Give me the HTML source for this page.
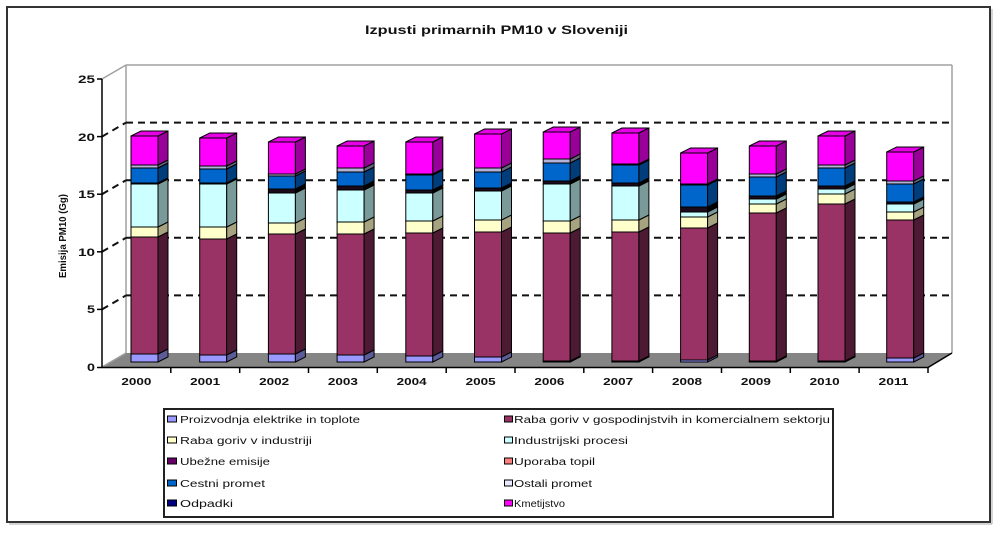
<!DOCTYPE html>
<html>
<head>
<meta charset="utf-8">
<style>
html,body{margin:0;padding:0;background:#fff;}
svg{display:block;}
text{font-family:"Liberation Sans",Arial,sans-serif;fill:#111;}
</style>
</head>
<body>
<svg width="1003" height="533" viewBox="0 0 1003 533" xmlns="http://www.w3.org/2000/svg">
<rect x="0" y="0" width="1003" height="533" fill="#fff"/>
<!-- outer frame -->
<rect x="7" y="7" width="983" height="515" fill="#fff" stroke="#333" stroke-width="2"/>
<line x1="9" y1="524" x2="992" y2="524" stroke="#aaa" stroke-width="1"/>
<line x1="992" y1="9" x2="992" y2="524" stroke="#aaa" stroke-width="1"/>

<!-- title -->
<text x="365" y="34" font-size="12" font-weight="bold" textLength="263" lengthAdjust="spacingAndGlyphs">Izpusti primarnih PM10 v Sloveniji</text>

<!-- floor -->
<polygon points="102,367 928,367 952,353 126,353" fill="#858585"/>
<!-- back wall border -->
<g stroke="#a0a0a0" stroke-width="1.5" fill="none">
<line x1="126" y1="65" x2="952" y2="65"/>
<line x1="126" y1="65" x2="126" y2="353"/>
<line x1="952" y1="65" x2="952" y2="353"/>
<line x1="102" y1="79" x2="126" y2="65"/>
<line x1="102" y1="367" x2="126" y2="353"/>
</g>
<!-- gridlines -->
<g stroke="#111" stroke-width="2" stroke-dasharray="7,5" fill="none">
<line x1="126" y1="122.6" x2="952" y2="122.6"/>
<line x1="126" y1="180.2" x2="952" y2="180.2"/>
<line x1="126" y1="237.8" x2="952" y2="237.8"/>
<line x1="126" y1="295.4" x2="952" y2="295.4"/>
<line x1="102" y1="136.6" x2="126" y2="122.6"/>
<line x1="102" y1="194.2" x2="126" y2="180.2"/>
<line x1="102" y1="251.8" x2="126" y2="237.8"/>
<line x1="102" y1="309.4" x2="126" y2="295.4"/>
</g>

<!-- bars -->
<g stroke="#000" stroke-width="1" stroke-linejoin="miter">
<!-- 2000 -->
<g transform="translate(131,0)">
<rect x="0" y="354" width="27" height="8" fill="#9999FF"/><polygon points="27,362 37,357 37,349 27,354" fill="#5c5c99"/>
<rect x="0" y="237" width="27" height="117" fill="#993366"/><polygon points="27,354 37,349 37,232 27,237" fill="#4d1a33"/>
<rect x="0" y="227" width="27" height="10" fill="#FFFFCC"/><polygon points="27,237 37,232 37,222 27,227" fill="#a6a380"/>
<rect x="0" y="184" width="27" height="43" fill="#CCFFFF"/><polygon points="27,227 37,222 37,179 27,184" fill="#7a9999"/>
<rect x="0" y="183" width="27" height="1" fill="#1a0a1a"/><polygon points="27,184 37,179 37,178 27,183" fill="#000"/>
<rect x="0" y="168" width="27" height="15" fill="#0066CC"/><polygon points="27,183 37,178 37,163 27,168" fill="#003d7a"/>
<rect x="0" y="165" width="27" height="3" fill="#b3b3d9"/><polygon points="27,168 37,163 37,160 27,165" fill="#66667f"/>
<rect x="0" y="136" width="27" height="29" fill="#FF00FF"/><polygon points="27,165 37,160 37,131 27,136" fill="#990099"/>
<polygon points="0,136 10,131 37,131 27,136" fill="#e600e6"/>
</g>
<!-- 2001 -->
<g transform="translate(199.7,0)">
<rect x="0" y="355" width="27" height="7" fill="#9999FF"/><polygon points="27,362 37,357 37,350 27,355" fill="#5c5c99"/>
<rect x="0" y="239" width="27" height="116" fill="#993366"/><polygon points="27,355 37,350 37,234 27,239" fill="#4d1a33"/>
<rect x="0" y="227" width="27" height="12" fill="#FFFFCC"/><polygon points="27,239 37,234 37,222 27,227" fill="#a6a380"/>
<rect x="0" y="184" width="27" height="43" fill="#CCFFFF"/><polygon points="27,227 37,222 37,179 27,184" fill="#7a9999"/>
<rect x="0" y="183" width="27" height="1" fill="#1a0a1a"/><polygon points="27,184 37,179 37,178 27,183" fill="#000"/>
<rect x="0" y="169" width="27" height="14" fill="#0066CC"/><polygon points="27,183 37,178 37,164 27,169" fill="#003d7a"/>
<rect x="0" y="166" width="27" height="3" fill="#b3b3d9"/><polygon points="27,169 37,164 37,161 27,166" fill="#66667f"/>
<rect x="0" y="138" width="27" height="28" fill="#FF00FF"/><polygon points="27,166 37,161 37,133 27,138" fill="#990099"/>
<polygon points="0,138 10,133 37,133 27,138" fill="#e600e6"/>
</g>
<!-- 2002 -->
<g transform="translate(268.4,0)">
<rect x="0" y="354" width="27" height="8" fill="#9999FF"/><polygon points="27,362 37,357 37,349 27,354" fill="#5c5c99"/>
<rect x="0" y="234" width="27" height="120" fill="#993366"/><polygon points="27,354 37,349 37,229 27,234" fill="#4d1a33"/>
<rect x="0" y="223" width="27" height="11" fill="#FFFFCC"/><polygon points="27,234 37,229 37,218 27,223" fill="#a6a380"/>
<rect x="0" y="193" width="27" height="30" fill="#CCFFFF"/><polygon points="27,223 37,218 37,188 27,193" fill="#7a9999"/>
<rect x="0" y="189" width="27" height="4" fill="#1a0a1a"/><polygon points="27,193 37,188 37,184 27,189" fill="#000"/>
<rect x="0" y="176" width="27" height="13" fill="#0066CC"/><polygon points="27,189 37,184 37,171 27,176" fill="#003d7a"/>
<rect x="0" y="174" width="27" height="2" fill="#b3b3d9"/><polygon points="27,176 37,171 37,169 27,174" fill="#66667f"/>
<rect x="0" y="142" width="27" height="32" fill="#FF00FF"/><polygon points="27,174 37,169 37,137 27,142" fill="#990099"/>
<polygon points="0,142 10,137 37,137 27,142" fill="#e600e6"/>
</g>
<!-- 2003 -->
<g transform="translate(337.1,0)">
<rect x="0" y="355" width="27" height="7" fill="#9999FF"/><polygon points="27,362 37,357 37,350 27,355" fill="#5c5c99"/>
<rect x="0" y="234" width="27" height="121" fill="#993366"/><polygon points="27,355 37,350 37,229 27,234" fill="#4d1a33"/>
<rect x="0" y="222" width="27" height="12" fill="#FFFFCC"/><polygon points="27,234 37,229 37,217 27,222" fill="#a6a380"/>
<rect x="0" y="190" width="27" height="32" fill="#CCFFFF"/><polygon points="27,222 37,217 37,185 27,190" fill="#7a9999"/>
<rect x="0" y="186" width="27" height="4" fill="#1a0a1a"/><polygon points="27,190 37,185 37,181 27,186" fill="#000"/>
<rect x="0" y="172" width="27" height="14" fill="#0066CC"/><polygon points="27,186 37,181 37,167 27,172" fill="#003d7a"/>
<rect x="0" y="168" width="27" height="4" fill="#b3b3d9"/><polygon points="27,172 37,167 37,163 27,168" fill="#66667f"/>
<rect x="0" y="146" width="27" height="22" fill="#FF00FF"/><polygon points="27,168 37,163 37,141 27,146" fill="#990099"/>
<polygon points="0,146 10,141 37,141 27,146" fill="#e600e6"/>
</g>
<!-- 2004 -->
<g transform="translate(405.8,0)">
<rect x="0" y="356" width="27" height="6" fill="#9999FF"/><polygon points="27,362 37,357 37,351 27,356" fill="#5c5c99"/>
<rect x="0" y="233" width="27" height="123" fill="#993366"/><polygon points="27,356 37,351 37,228 27,233" fill="#4d1a33"/>
<rect x="0" y="221" width="27" height="12" fill="#FFFFCC"/><polygon points="27,233 37,228 37,216 27,221" fill="#a6a380"/>
<rect x="0" y="193" width="27" height="28" fill="#CCFFFF"/><polygon points="27,221 37,216 37,188 27,193" fill="#7a9999"/>
<rect x="0" y="190" width="27" height="3" fill="#1a0a1a"/><polygon points="27,193 37,188 37,185 27,190" fill="#000"/>
<rect x="0" y="175" width="27" height="15" fill="#0066CC"/><polygon points="27,190 37,185 37,170 27,175" fill="#003d7a"/>
<rect x="0" y="174" width="27" height="1" fill="#b3b3d9"/><polygon points="27,175 37,170 37,169 27,174" fill="#66667f"/>
<rect x="0" y="142" width="27" height="32" fill="#FF00FF"/><polygon points="27,174 37,169 37,137 27,142" fill="#990099"/>
<polygon points="0,142 10,137 37,137 27,142" fill="#e600e6"/>
</g>
<!-- 2005 -->
<g transform="translate(474.5,0)">
<rect x="0" y="357" width="27" height="5" fill="#9999FF"/><polygon points="27,362 37,357 37,352 27,357" fill="#5c5c99"/>
<rect x="0" y="232" width="27" height="125" fill="#993366"/><polygon points="27,357 37,352 37,227 27,232" fill="#4d1a33"/>
<rect x="0" y="220" width="27" height="12" fill="#FFFFCC"/><polygon points="27,232 37,227 37,215 27,220" fill="#a6a380"/>
<rect x="0" y="191" width="27" height="29" fill="#CCFFFF"/><polygon points="27,220 37,215 37,186 27,191" fill="#7a9999"/>
<rect x="0" y="188" width="27" height="3" fill="#1a0a1a"/><polygon points="27,191 37,186 37,183 27,188" fill="#000"/>
<rect x="0" y="172" width="27" height="16" fill="#0066CC"/><polygon points="27,188 37,183 37,167 27,172" fill="#003d7a"/>
<rect x="0" y="168" width="27" height="4" fill="#b3b3d9"/><polygon points="27,172 37,167 37,163 27,168" fill="#66667f"/>
<rect x="0" y="134" width="27" height="34" fill="#FF00FF"/><polygon points="27,168 37,163 37,129 27,134" fill="#990099"/>
<polygon points="0,134 10,129 37,129 27,134" fill="#e600e6"/>
</g>
<!-- 2006 -->
<g transform="translate(543.2,0)">
<rect x="0" y="361" width="27" height="1" fill="#9999FF"/><polygon points="27,362 37,357 37,356 27,361" fill="#5c5c99"/>
<rect x="0" y="233" width="27" height="128" fill="#993366"/><polygon points="27,361 37,356 37,228 27,233" fill="#4d1a33"/>
<rect x="0" y="221" width="27" height="12" fill="#FFFFCC"/><polygon points="27,233 37,228 37,216 27,221" fill="#a6a380"/>
<rect x="0" y="184" width="27" height="37" fill="#CCFFFF"/><polygon points="27,221 37,216 37,179 27,184" fill="#7a9999"/>
<rect x="0" y="181" width="27" height="3" fill="#1a0a1a"/><polygon points="27,184 37,179 37,176 27,181" fill="#000"/>
<rect x="0" y="163" width="27" height="18" fill="#0066CC"/><polygon points="27,181 37,176 37,158 27,163" fill="#003d7a"/>
<rect x="0" y="159" width="27" height="4" fill="#b3b3d9"/><polygon points="27,163 37,158 37,154 27,159" fill="#66667f"/>
<rect x="0" y="132" width="27" height="27" fill="#FF00FF"/><polygon points="27,159 37,154 37,127 27,132" fill="#990099"/>
<polygon points="0,132 10,127 37,127 27,132" fill="#e600e6"/>
</g>
<!-- 2007 -->
<g transform="translate(611.9,0)">
<rect x="0" y="361" width="27" height="1" fill="#9999FF"/><polygon points="27,362 37,357 37,356 27,361" fill="#5c5c99"/>
<rect x="0" y="232" width="27" height="129" fill="#993366"/><polygon points="27,361 37,356 37,227 27,232" fill="#4d1a33"/>
<rect x="0" y="220" width="27" height="12" fill="#FFFFCC"/><polygon points="27,232 37,227 37,215 27,220" fill="#a6a380"/>
<rect x="0" y="186" width="27" height="34" fill="#CCFFFF"/><polygon points="27,220 37,215 37,181 27,186" fill="#7a9999"/>
<rect x="0" y="183" width="27" height="3" fill="#1a0a1a"/><polygon points="27,186 37,181 37,178 27,183" fill="#000"/>
<rect x="0" y="165" width="27" height="18" fill="#0066CC"/><polygon points="27,183 37,178 37,160 27,165" fill="#003d7a"/>
<rect x="0" y="164" width="27" height="1" fill="#b3b3d9"/><polygon points="27,165 37,160 37,159 27,164" fill="#66667f"/>
<rect x="0" y="133" width="27" height="31" fill="#FF00FF"/><polygon points="27,164 37,159 37,128 27,133" fill="#990099"/>
<polygon points="0,133 10,128 37,128 27,133" fill="#e600e6"/>
</g>
<!-- 2008 -->
<g transform="translate(680.6,0)">
<rect x="0" y="360" width="27" height="2" fill="#9999FF"/><polygon points="27,362 37,357 37,355 27,360" fill="#5c5c99"/>
<rect x="0" y="228" width="27" height="132" fill="#993366"/><polygon points="27,360 37,355 37,223 27,228" fill="#4d1a33"/>
<rect x="0" y="217" width="27" height="11" fill="#FFFFCC"/><polygon points="27,228 37,223 37,212 27,217" fill="#a6a380"/>
<rect x="0" y="212" width="27" height="5" fill="#CCFFFF"/><polygon points="27,217 37,212 37,207 27,212" fill="#7a9999"/>
<rect x="0" y="207" width="27" height="5" fill="#1a0a1a"/><polygon points="27,212 37,207 37,202 27,207" fill="#000"/>
<rect x="0" y="185" width="27" height="22" fill="#0066CC"/><polygon points="27,207 37,202 37,180 27,185" fill="#003d7a"/>
<rect x="0" y="184" width="27" height="1" fill="#b3b3d9"/><polygon points="27,185 37,180 37,179 27,184" fill="#66667f"/>
<rect x="0" y="153" width="27" height="31" fill="#FF00FF"/><polygon points="27,184 37,179 37,148 27,153" fill="#990099"/>
<polygon points="0,153 10,148 37,148 27,153" fill="#e600e6"/>
</g>
<!-- 2009 -->
<g transform="translate(749.3,0)">
<rect x="0" y="361" width="27" height="1" fill="#9999FF"/><polygon points="27,362 37,357 37,356 27,361" fill="#5c5c99"/>
<rect x="0" y="213" width="27" height="148" fill="#993366"/><polygon points="27,361 37,356 37,208 27,213" fill="#4d1a33"/>
<rect x="0" y="204" width="27" height="9" fill="#FFFFCC"/><polygon points="27,213 37,208 37,199 27,204" fill="#a6a380"/>
<rect x="0" y="199" width="27" height="5" fill="#CCFFFF"/><polygon points="27,204 37,199 37,194 27,199" fill="#7a9999"/>
<rect x="0" y="196" width="27" height="3" fill="#1a0a1a"/><polygon points="27,199 37,194 37,191 27,196" fill="#000"/>
<rect x="0" y="177" width="27" height="19" fill="#0066CC"/><polygon points="27,196 37,191 37,172 27,177" fill="#003d7a"/>
<rect x="0" y="174" width="27" height="3" fill="#b3b3d9"/><polygon points="27,177 37,172 37,169 27,174" fill="#66667f"/>
<rect x="0" y="146" width="27" height="28" fill="#FF00FF"/><polygon points="27,174 37,169 37,141 27,146" fill="#990099"/>
<polygon points="0,146 10,141 37,141 27,146" fill="#e600e6"/>
</g>
<!-- 2010 -->
<g transform="translate(818,0)">
<rect x="0" y="361" width="27" height="1" fill="#9999FF"/><polygon points="27,362 37,357 37,356 27,361" fill="#5c5c99"/>
<rect x="0" y="204" width="27" height="157" fill="#993366"/><polygon points="27,361 37,356 37,199 27,204" fill="#4d1a33"/>
<rect x="0" y="194" width="27" height="10" fill="#FFFFCC"/><polygon points="27,204 37,199 37,189 27,194" fill="#a6a380"/>
<rect x="0" y="189" width="27" height="5" fill="#CCFFFF"/><polygon points="27,194 37,189 37,184 27,189" fill="#7a9999"/>
<rect x="0" y="186" width="27" height="3" fill="#1a0a1a"/><polygon points="27,189 37,184 37,181 27,186" fill="#000"/>
<rect x="0" y="168" width="27" height="18" fill="#0066CC"/><polygon points="27,186 37,181 37,163 27,168" fill="#003d7a"/>
<rect x="0" y="165" width="27" height="3" fill="#b3b3d9"/><polygon points="27,168 37,163 37,160 27,165" fill="#66667f"/>
<rect x="0" y="136" width="27" height="29" fill="#FF00FF"/><polygon points="27,165 37,160 37,131 27,136" fill="#990099"/>
<polygon points="0,136 10,131 37,131 27,136" fill="#e600e6"/>
</g>
<!-- 2011 -->
<g transform="translate(886.7,0)">
<rect x="0" y="358" width="27" height="4" fill="#9999FF"/><polygon points="27,362 37,357 37,353 27,358" fill="#5c5c99"/>
<rect x="0" y="220" width="27" height="138" fill="#993366"/><polygon points="27,358 37,353 37,215 27,220" fill="#4d1a33"/>
<rect x="0" y="212" width="27" height="8" fill="#FFFFCC"/><polygon points="27,220 37,215 37,207 27,212" fill="#a6a380"/>
<rect x="0" y="204" width="27" height="8" fill="#CCFFFF"/><polygon points="27,212 37,207 37,199 27,204" fill="#7a9999"/>
<rect x="0" y="202" width="27" height="2" fill="#1a0a1a"/><polygon points="27,204 37,199 37,197 27,202" fill="#000"/>
<rect x="0" y="184" width="27" height="18" fill="#0066CC"/><polygon points="27,202 37,197 37,179 27,184" fill="#003d7a"/>
<rect x="0" y="181" width="27" height="3" fill="#b3b3d9"/><polygon points="27,184 37,179 37,176 27,181" fill="#66667f"/>
<rect x="0" y="152" width="27" height="29" fill="#FF00FF"/><polygon points="27,181 37,176 37,147 27,152" fill="#990099"/>
<polygon points="0,152 10,147 37,147 27,152" fill="#e600e6"/>
</g>
</g>

<!-- axes -->
<g stroke="#000" stroke-width="1.5" fill="none">
<line x1="102" y1="79" x2="102" y2="368"/>
<line x1="102" y1="367.5" x2="928" y2="367.5"/>
<line x1="928" y1="367.5" x2="952" y2="353"/>
<line x1="97" y1="79" x2="102" y2="79"/>
<line x1="97" y1="136.6" x2="102" y2="136.6"/>
<line x1="97" y1="194.2" x2="102" y2="194.2"/>
<line x1="97" y1="251.8" x2="102" y2="251.8"/>
<line x1="97" y1="309.4" x2="102" y2="309.4"/>
<line x1="97" y1="367.5" x2="102" y2="367.5"/>
<line x1="170.8" y1="367" x2="170.8" y2="373"/>
<line x1="239.7" y1="367" x2="239.7" y2="373"/>
<line x1="308.5" y1="367" x2="308.5" y2="373"/>
<line x1="377.3" y1="367" x2="377.3" y2="373"/>
<line x1="446.2" y1="367" x2="446.2" y2="373"/>
<line x1="515" y1="367" x2="515" y2="373"/>
<line x1="583.8" y1="367" x2="583.8" y2="373"/>
<line x1="652.6" y1="367" x2="652.6" y2="373"/>
<line x1="721.5" y1="367" x2="721.5" y2="373"/>
<line x1="790.3" y1="367" x2="790.3" y2="373"/>
<line x1="859.1" y1="367" x2="859.1" y2="373"/>
<line x1="928" y1="367" x2="928" y2="373"/>
</g>

<!-- y tick labels -->
<g font-size="11" font-weight="bold">
<text x="78" y="83" textLength="17" lengthAdjust="spacingAndGlyphs">25</text>
<text x="78" y="141" textLength="17" lengthAdjust="spacingAndGlyphs">20</text>
<text x="78" y="198" textLength="17" lengthAdjust="spacingAndGlyphs">15</text>
<text x="78" y="256" textLength="17" lengthAdjust="spacingAndGlyphs">10</text>
<text x="87" y="313" textLength="8" lengthAdjust="spacingAndGlyphs">5</text>
<text x="87" y="371" textLength="8" lengthAdjust="spacingAndGlyphs">0</text>
</g>
<!-- y axis title -->
<text transform="translate(66,278) rotate(-90)" x="0" y="0" font-size="10" font-weight="bold" textLength="84" lengthAdjust="spacingAndGlyphs">Emisija PM10 (Gg)</text>

<!-- x labels -->
<g font-size="10.5" font-weight="bold">
<text x="121.4" y="385" textLength="30" lengthAdjust="spacingAndGlyphs">2000</text>
<text x="190.2" y="385" textLength="30" lengthAdjust="spacingAndGlyphs">2001</text>
<text x="259.1" y="385" textLength="30" lengthAdjust="spacingAndGlyphs">2002</text>
<text x="327.9" y="385" textLength="30" lengthAdjust="spacingAndGlyphs">2003</text>
<text x="396.7" y="385" textLength="30" lengthAdjust="spacingAndGlyphs">2004</text>
<text x="465.6" y="385" textLength="30" lengthAdjust="spacingAndGlyphs">2005</text>
<text x="534.4" y="385" textLength="30" lengthAdjust="spacingAndGlyphs">2006</text>
<text x="603.2" y="385" textLength="30" lengthAdjust="spacingAndGlyphs">2007</text>
<text x="672" y="385" textLength="30" lengthAdjust="spacingAndGlyphs">2008</text>
<text x="740.9" y="385" textLength="30" lengthAdjust="spacingAndGlyphs">2009</text>
<text x="809.7" y="385" textLength="30" lengthAdjust="spacingAndGlyphs">2010</text>
<text x="878.5" y="385" textLength="30" lengthAdjust="spacingAndGlyphs">2011</text>
</g>

<!-- legend -->
<rect x="164" y="409" width="669" height="108" fill="#fff" stroke="#222" stroke-width="2"/>
<g stroke="#000" stroke-width="1">
<rect x="167.5" y="416" width="9" height="6" fill="#9999FF"/>
<rect x="167.5" y="437" width="9" height="6" fill="#FFFFCC"/>
<rect x="167.5" y="458" width="9" height="6" fill="#660066"/>
<rect x="167.5" y="480" width="9" height="6" fill="#0066CC"/>
<rect x="167.5" y="500" width="9" height="6" fill="#000080"/>
<rect x="504.5" y="416" width="8" height="6" fill="#993366"/>
<rect x="504.5" y="437" width="8" height="6" fill="#CCFFFF"/>
<rect x="504.5" y="458" width="8" height="6" fill="#FF8080"/>
<rect x="504.5" y="480" width="8" height="6" fill="#E8E8FF"/>
<rect x="504.5" y="500" width="8" height="6" fill="#FF00FF"/>
</g>
<g font-size="10">
<text x="180" y="423" textLength="180" lengthAdjust="spacingAndGlyphs">Proizvodnja elektrike in toplote</text>
<text x="180" y="444" textLength="132" lengthAdjust="spacingAndGlyphs">Raba goriv v industriji</text>
<text x="180" y="465" textLength="90" lengthAdjust="spacingAndGlyphs">Ubežne emisije</text>
<text x="180" y="487" textLength="85" lengthAdjust="spacingAndGlyphs">Cestni promet</text>
<text x="180" y="507" textLength="53" lengthAdjust="spacingAndGlyphs">Odpadki</text>
<text x="514" y="423" textLength="316" lengthAdjust="spacingAndGlyphs">Raba goriv v gospodinjstvih in komercialnem sektorju</text>
<text x="514" y="444" textLength="114" lengthAdjust="spacingAndGlyphs">Industrijski procesi</text>
<text x="514" y="465" textLength="81" lengthAdjust="spacingAndGlyphs">Uporaba topil</text>
<text x="514" y="487" textLength="78" lengthAdjust="spacingAndGlyphs">Ostali promet</text>
<text x="514" y="507" textLength="51" lengthAdjust="spacingAndGlyphs">Kmetijstvo</text>
</g>
</svg>
</body>
</html>
